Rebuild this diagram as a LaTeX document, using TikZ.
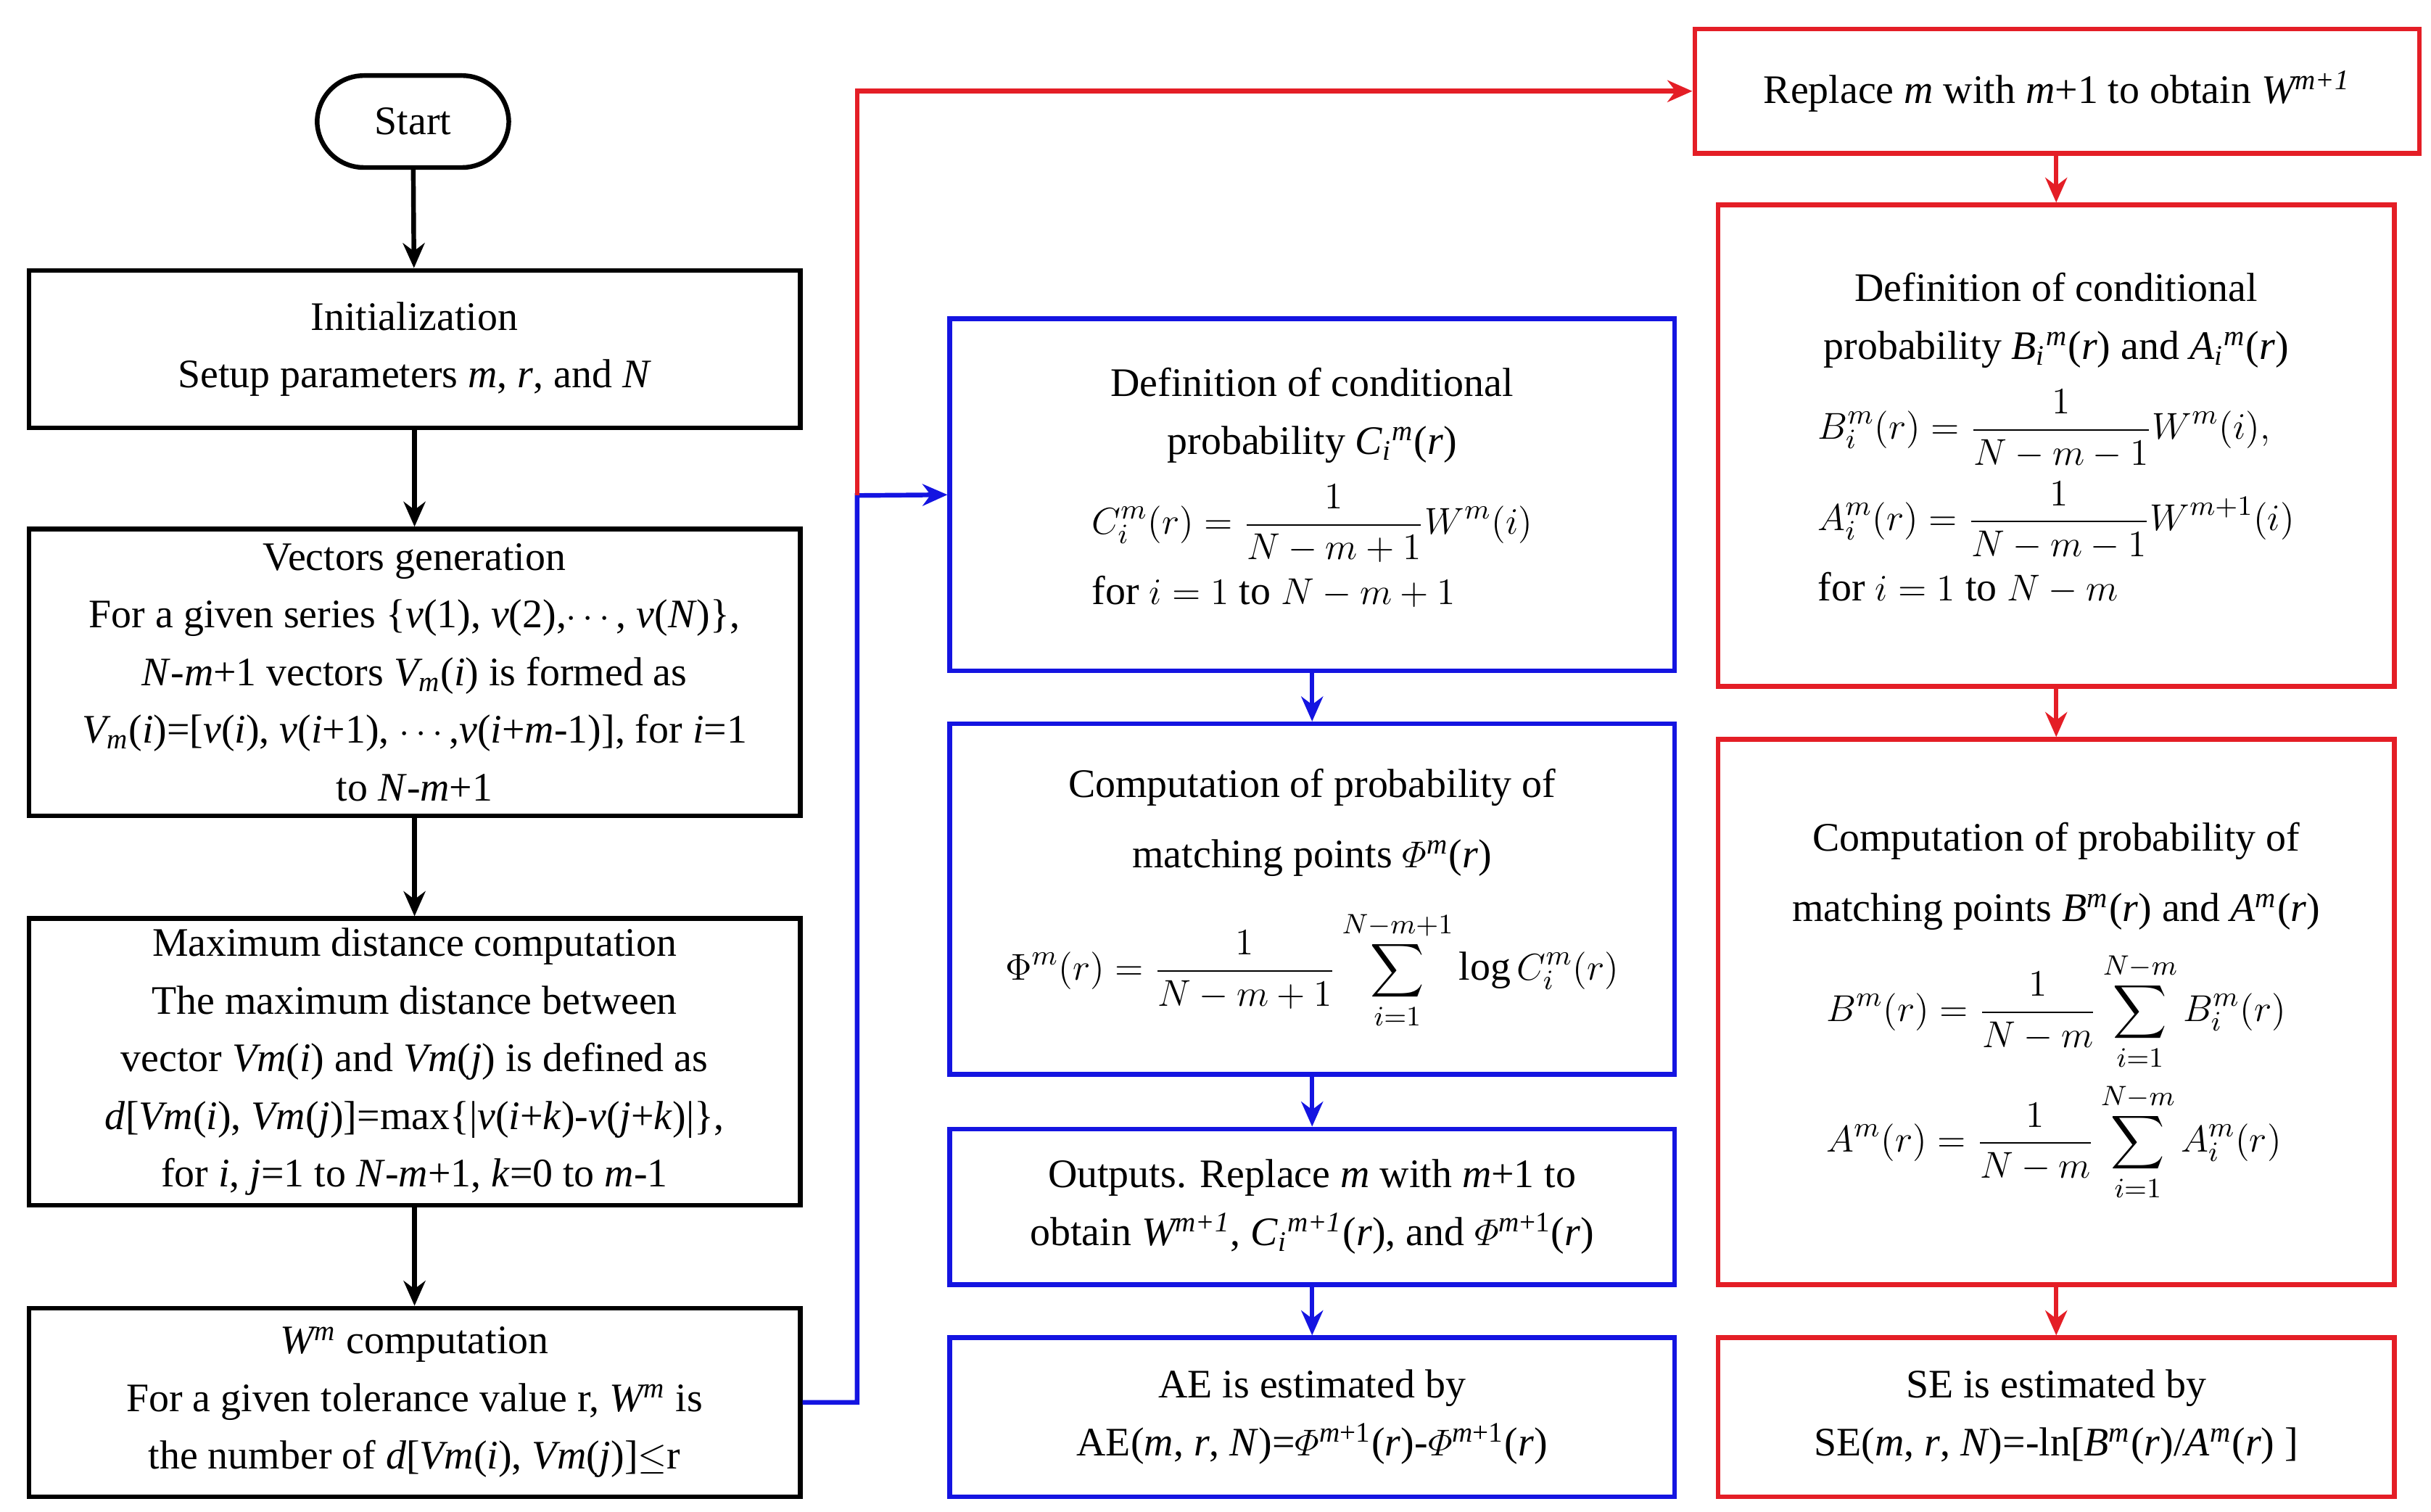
\documentclass[tikz,border=0pt]{standalone}
\usepackage{amsmath}
\usepackage{fontspec}
\setmainfont{Liberation Serif}
\usetikzlibrary{arrows.meta}
\definecolor{mblue}{RGB}{20,20,225}
\definecolor{mred}{RGB}{228,30,38}
\begin{document}
\begin{tikzpicture}[x=0.5pt,y=-0.5pt,
  font=\fontsize{13}{18.5}\selectfont,
  bx/.style 2 args={draw,line width=1.5pt,align=center,inner sep=2pt,minimum width={#1*0.5pt-1.5pt},minimum height={#2*0.5pt-1.5pt}},
  bb/.style={draw=mblue},
  rb/.style={draw=mred},
  arr/.style={-{Stealth[length=8pt,width=7pt]},line width=1.5pt},
  barr/.style={arr,mblue},
  rarr/.style={arr,mred}]
\useasboundingbox (0,0) rectangle (1560,970);
\node[bx={126}{62},rounded corners=15pt] (start) at (265,78) {Start};
\node[bx={498}{104}] (init) at (266,224) {Initialization\\Setup parameters \textit{m}, \textit{r}, and \textit{N}};
\node[bx={498}{187}] (vec) at (266,431.5) {Vectors generation\\For a given series \{\textit{v}(1), \textit{v}(2),$\cdots$, \textit{v}(\textit{N})\},\\\textit{N}-\textit{m}+1 vectors \textit{V\textsubscript{m}}(\textit{i}) is formed as\\\textit{V\textsubscript{m}}(\textit{i})=[\textit{v}(\textit{i}), \textit{v}(\textit{i}+1), $\cdots$,\textit{v}(\textit{i}+\textit{m}-1)], for \textit{i}=1\\to \textit{N}-\textit{m}+1};
\node[bx={498}{187}] (maxd) at (266,681.5) {Maximum distance computation\\The maximum distance between\\vector \textit{Vm}(\textit{i}) and \textit{Vm}(\textit{j}) is defined as\\\textit{d}[\textit{Vm}(\textit{i}), \textit{Vm}(\textit{j})]=max\{|\textit{v}(\textit{i}+\textit{k})-\textit{v}(\textit{j}+\textit{k})|\},\\for \textit{i}, \textit{j}=1 to \textit{N}-\textit{m}+1, \textit{k}=0 to \textit{m}-1};
\node[bx={498}{124}] (wm) at (266,900) {\textit{W\textsuperscript{m}} computation\\For a given tolerance value r, \textit{W\textsuperscript{m}} is\\the number of \textit{d}[\textit{Vm}(\textit{i}), \textit{Vm}(\textit{j})]$\le$r};
\node[bx={468}{229},bb] (defc) at (842,317.5) {Definition of conditional\\probability \textit{C\textsubscript{i}\textsuperscript{m}}(\textit{r})\\[6pt]
$\begin{array}{l}\displaystyle C_i^m(r)=\frac{1}{N-m+1}W^m(i)\\[4pt] \text{for } i=1 \text{ to } N-m+1\end{array}$};
\node[bx={468}{228},bb] (phi) at (842,577) {Computation of probability of\\[4pt]matching points $\varPhi$\textsuperscript{\textit{m}}(\textit{r})\\[10pt]
$\displaystyle \Phi^m(r)=\frac{1}{N-m+1}\sum_{i=1}^{N-m+1}\log C_i^m(r)$};
\node[bx={468}{103},bb] (out) at (842,774.5) {Outputs. Replace \textit{m} with \textit{m}+1 to\\obtain \textit{W\textsuperscript{m+1}}, \textit{C\textsubscript{i}\textsuperscript{m+1}}(\textit{r}), and $\varPhi$\textsuperscript{\textit{m}+1}(\textit{r})};
\node[bx={468}{105},bb] (ae) at (842,909.5) {AE is estimated by\\AE(\textit{m}, \textit{r}, \textit{N})=$\varPhi$\textsuperscript{\textit{m}+1}(\textit{r})-$\varPhi$\textsuperscript{\textit{m}+1}(\textit{r})};
\node[bx={468}{83},rb] (rep) at (1320,58.5) {Replace \textit{m} with \textit{m}+1 to obtain \textit{W\textsuperscript{m+1}}};
\node[bx={437}{312},rb] (defba) at (1319.5,286) {Definition of conditional\\probability \textit{B\textsubscript{i}\textsuperscript{m}}(\textit{r}) and \textit{A\textsubscript{i}\textsuperscript{m}}(\textit{r})\\[6pt]
$\begin{array}{l}\displaystyle B_i^m(r)=\frac{1}{N-m-1}W^m(i),\\[8pt]\displaystyle A_i^m(r)=\frac{1}{N-m-1}W^{m+1}(i)\\[4pt] \text{for } i=1 \text{ to } N-m\end{array}$};
\node[bx={437}{353},rb] (comp) at (1319.5,649.5) {Computation of probability of\\[4pt]matching points \textit{B\textsuperscript{m}}(\textit{r}) and \textit{A\textsuperscript{m}}(\textit{r})\\[6pt]
$\begin{array}{l}\displaystyle B^m(r)=\frac{1}{N-m}\sum_{i=1}^{N-m}B_i^m(r)\\[14pt]\displaystyle A^m(r)=\frac{1}{N-m}\sum_{i=1}^{N-m}A_i^m(r)\end{array}$};
\node[bx={437}{105},rb] (se) at (1319.5,909.5) {SE is estimated by\\SE(\textit{m}, \textit{r}, \textit{N})=-ln[\textit{B\textsuperscript{m}}(\textit{r})/\textit{A\textsuperscript{m}}(\textit{r}) ]};
\coordinate (j) at (550,318);
\draw[arr] (start) -- (init);
\draw[arr] (init) -- (vec);
\draw[arr] (vec) -- (maxd);
\draw[arr] (maxd) -- (wm);
\draw[barr] (wm.east) -| (j) -- (defc.west);
\draw[rarr] (j) |- (rep.west);
\draw[barr] (defc) -- (phi);
\draw[barr] (phi) -- (out);
\draw[barr] (out) -- (ae);
\draw[rarr] (rep.south -| defba.north) -- (defba);
\draw[rarr] (defba) -- (comp);
\draw[rarr] (comp) -- (se);
\end{tikzpicture}
\end{document}
